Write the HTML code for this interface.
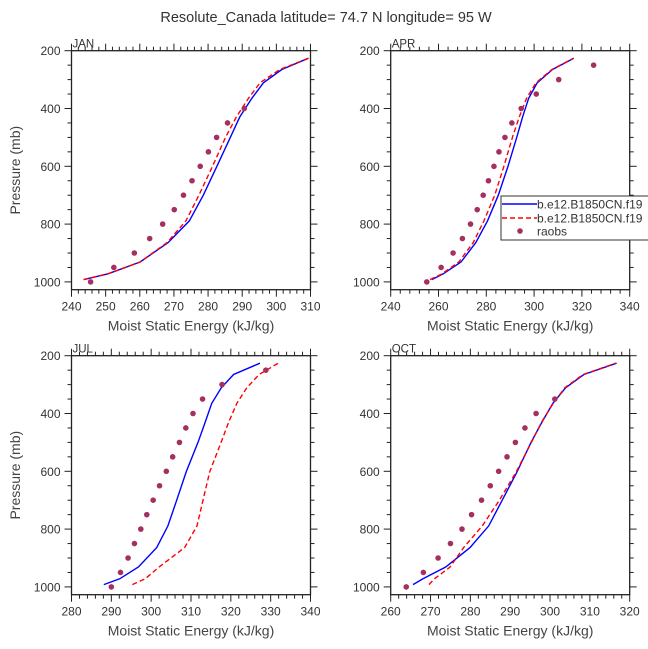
<!DOCTYPE html>
<html><head><meta charset="utf-8"><style>
html,body{margin:0;padding:0;background:#fff;}
svg{display:block;font-family:"Liberation Sans",sans-serif;}
</style></head><body>
<svg id="chart" width="648" height="649" viewBox="0 0 648 649" xmlns="http://www.w3.org/2000/svg">
<text x="326" y="22" text-anchor="middle" font-size="14.5" fill="#333">Resolute_Canada  latitude= 74.7 N longitude= 95 W</text>
</svg>
<script>
const levels = [992,972,931,864,789,700,602,498,429,365,311,265,226];
const raobLevels = [1000,950,900,850,800,750,700,650,600,550,500,450,400,350,300,250];
const janBlue = [243.6,250.7,260.1,268.3,274.5,278.6,282.5,286.6,289.3,292.8,296.2,301.6,309.4];
const janRed  = [243.5,250.7,260.1,268.0,273.5,277.3,281.2,285.2,288.3,291.8,295.2,301.0,309.5];
const janObs  = [245.6,252.4,258.4,262.9,266.7,270.1,272.8,275.3,277.7,280.1,282.5,285.7,290.6];
const aprBlue = [257.2,262.0,269.4,275.6,280.5,285.0,289.0,292.8,295.2,297.7,301.3,307.7,316.6];
const aprRed  = [256.5,261.5,268.5,274.5,279.0,283.5,287.3,291.0,293.8,296.8,300.8,307.5,316.5];
const aprObs  = [255.1,261.1,266.1,270.0,273.4,276.2,278.7,280.9,283.2,285.3,287.8,290.7,294.6,300.9,310.3,324.9];
const julBlue = [288.1,292.1,296.8,301.4,304.2,306.4,308.8,311.8,313.6,315.2,317.6,320.7,327.3];
const julRed  = [295.3,298.5,302.0,308.4,311.5,313.0,314.7,317.6,319.5,321.5,324.0,327.1,331.9];
const julObs  = [290.0,292.3,294.2,295.8,297.4,298.9,300.5,302.1,303.8,305.4,307.1,308.7,310.5,312.9,317.8,328.8];
const octBlue = [265.6,268.1,273.8,279.9,284.6,288.0,291.7,295.3,298.0,300.7,303.9,308.5,316.7];
const octRed  = [269.6,271.0,274.9,278.3,283.0,287.3,291.5,295.4,297.9,300.8,303.7,308.3,316.5];
const octObs  = [263.9,268.2,271.9,275.0,277.9,280.3,282.8,285.0,287.1,289.2,291.3,293.7,296.5,301.2];
const panelNames = ["JAN","APR","JUL","OCT"];
const xMins = [240,240,280,260];
const xMaxs = [310,340,340,320];
const xSteps = [10,20,10,10];
const yTicks = [200,400,600,800,1000];

const NS="http://www.w3.org/2000/svg";
const svg=document.getElementById('chart');
function mk(tag,attrs,parent){const e=document.createElementNS(NS,tag);for(const k in attrs)e.setAttribute(k,attrs[k]);(parent||svg).appendChild(e);return e;}

const W=239,H=239;
const origins=[[71.5,50.7],[390.7,50.7],[71.5,355.7],[390.7,355.7]];
const series=[[janBlue,janRed,janObs],[aprBlue,aprRed,aprObs],[julBlue,julRed,julObs],[octBlue,octRed,octObs]];
const P0=200,P1=1027;

for(let i=0;i<4;i++){
  const [ox,oy]=origins[i];
  const xmin=xMins[i],xmax=xMaxs[i],step=xSteps[i];
  const xs=v=>ox+(v-xmin)/(xmax-xmin)*W;
  const ys=p=>oy+(p-P0)/(P1-P0)*H;
  const g=mk('g',{});
  
  
  const clipId='clip'+i;
  const cp=mk('clipPath',{id:clipId},g);mk('rect',{x:ox,y:oy,width:W,height:H},cp);
  // ticks
  const minor=step/5;
  for(let v=xmin;v<=xmax+1e-6;v+=minor){
    const isMaj=Math.abs((v-xmin)/step-Math.round((v-xmin)/step))<1e-6;
    const L=isMaj?7:4;const x=xs(v);
    mk('line',{x1:x,y1:oy,x2:x,y2:oy-L,stroke:'#222','stroke-width':1},g);
    mk('line',{x1:x,y1:oy+H,x2:x,y2:oy+H+L,stroke:'#222','stroke-width':1},g);
    if(isMaj){const t=mk('text',{x:x,y:oy+H+21,'text-anchor':'middle','font-size':12,fill:'#333'},g);t.textContent=Math.round(v);
      }
  }
  for(let p=200;p<=1000;p+=50){
    const isMaj=p%200===0;const L=isMaj?7:4;const y=ys(p);
    mk('line',{x1:ox,y1:y,x2:ox-L,y2:y,stroke:'#222','stroke-width':1},g);
    mk('line',{x1:ox+W,y1:y,x2:ox+W+L,y2:y,stroke:'#222','stroke-width':1},g);
  }
  yTicks.forEach(p=>{const t=mk('text',{x:ox-11,y:ys(p)+4.5,'text-anchor':'end','font-size':12,fill:'#333'},g);t.textContent=p;
    });
  mk('rect',{x:ox,y:oy,width:W,height:H,fill:'none',stroke:'#222','stroke-width':1.3},g);
  const lab=mk('text',{x:ox+1,y:oy-3,'font-size':11.5,fill:'#333'},g);lab.textContent=panelNames[i];
  
  const xt=mk('text',{x:ox+W/2,y:oy+H+41,'text-anchor':'middle','font-size':14,fill:'#444'},g);xt.textContent='Moist Static Energy (kJ/kg)';
  
  if(i%2===0){const yt=mk('text',{x:0,y:0,'text-anchor':'middle','font-size':14,fill:'#444',transform:`translate(20,${oy+H/2}) rotate(-90)`},g);
    yt.textContent='Pressure (mb)';}
  const [b,r,o]=series[i];
  const dB=b.map((v,k)=>(k?'L':'M')+xs(v).toFixed(1)+','+ys(levels[k]).toFixed(1)).join('');
  const dR=r.map((v,k)=>(k?'L':'M')+xs(v).toFixed(1)+','+ys(levels[k]).toFixed(1)).join('');
  const lb=mk('path',{d:dB,fill:'none',stroke:'#0000ff','stroke-width':1.4,'clip-path':`url(#${clipId})`},g);
  
  const lr=mk('path',{d:dR,fill:'none',stroke:'#ff0000','stroke-width':1.4,'stroke-dasharray':'5,3','clip-path':`url(#${clipId})`},g);
  
  o.forEach((v,k)=>{const c=mk('circle',{cx:xs(v),cy:ys(raobLevels[k]),r:2.8,fill:'#a33060'},g);
    });
}
// legend in APR panel
const lg=mk('g',{});


mk('rect',{x:501,y:196,width:160,height:44,fill:'#fff',stroke:'#333','stroke-width':1},lg);
mk('line',{x1:502,y1:204,x2:537,y2:204,stroke:'#0000ff','stroke-width':1.4},lg);
mk('line',{x1:502,y1:218,x2:537,y2:218,stroke:'#ff0000','stroke-width':1.4,'stroke-dasharray':'5,3'},lg);
mk('circle',{cx:520,cy:231,r:2.8,fill:'#a33060'},lg);
[['b.e12.B1850CN.f19',208.5,'legend-entry-blue'],['b.e12.B1850CN.f19',222.5,'legend-entry-red'],['raobs',235.5,'legend-entry-raobs']].forEach(([t,y,n])=>{
  const e=mk('text',{x:537,y:y,'font-size':12,fill:'#333'},lg);e.textContent=t;
  });
</script>
</body></html>
